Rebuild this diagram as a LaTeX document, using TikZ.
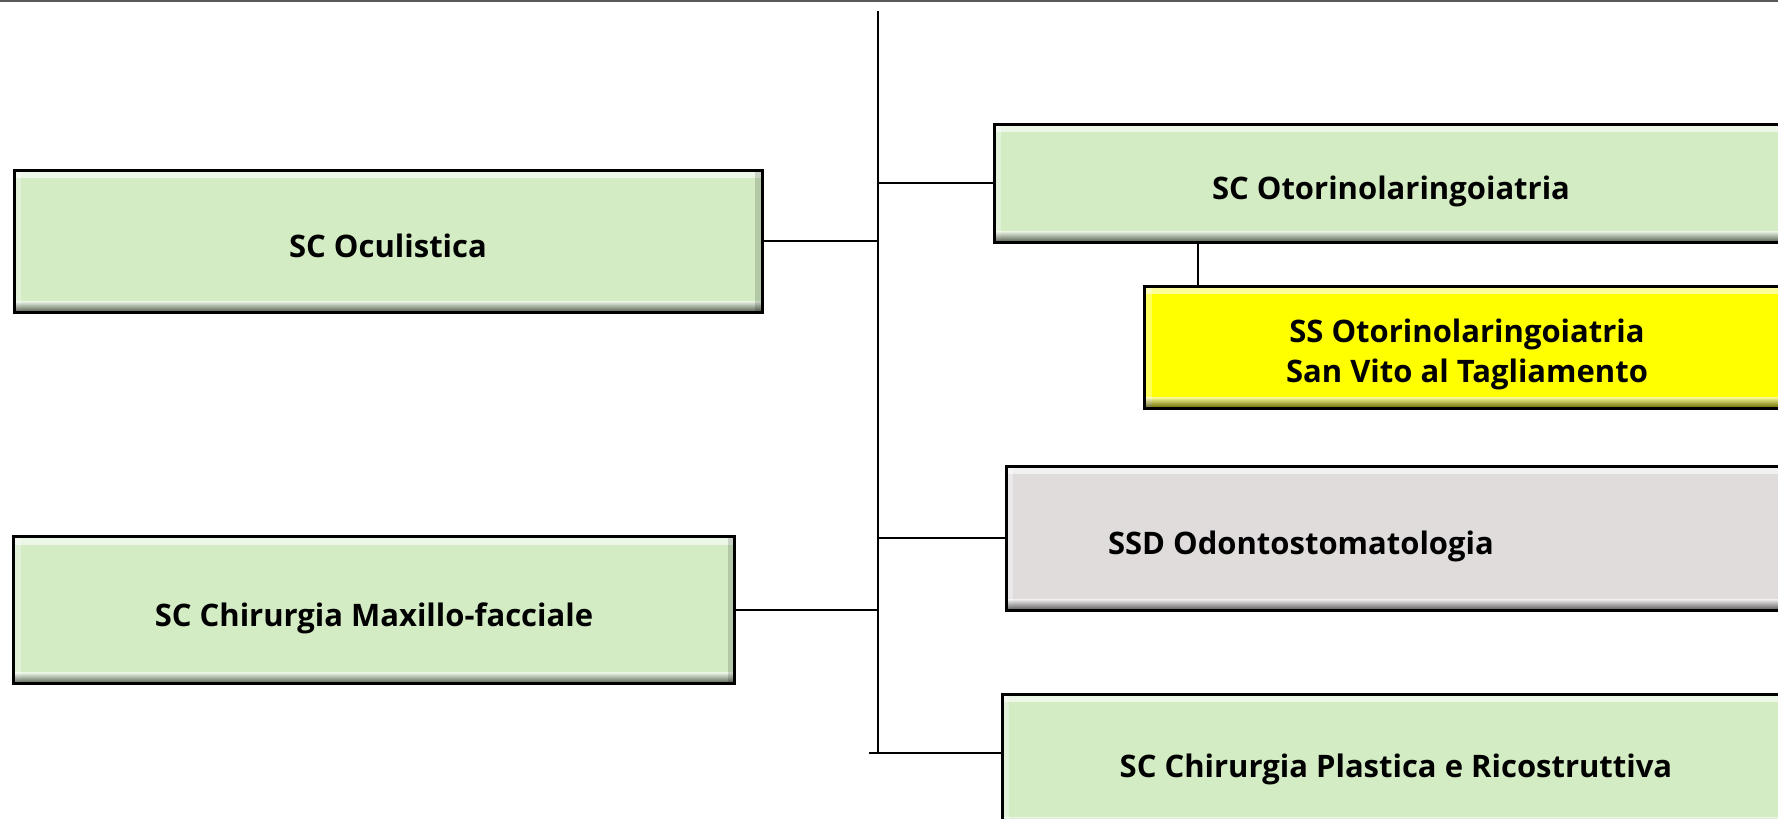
\documentclass[tikz,border=0pt]{standalone}
\usepackage{fontspec}
\setmainfont{Open Sans}
\usetikzlibrary{positioning}

\definecolor{ucgreen}{HTML}{D3ECC4}
\definecolor{ucyellow}{HTML}{FFFF00}
\definecolor{ucgray}{HTML}{E0DCDC}

\tikzset{
  unit/.style={draw=black, line width=3pt, inner sep=0pt, align=center,
    text height=33pt, text depth=0pt,
    font=\bfseries\fontsize{31}{40}\selectfont,
    path picture={
      \fill[white, opacity=.6] (path picture bounding box.north west) rectangle ([yshift=-8pt]path picture bounding box.north east);
      \fill[white, opacity=.35] (path picture bounding box.north west) rectangle ([xshift=7pt]path picture bounding box.south west);
      \shade[top color=white, bottom color=black, opacity=.6] ([yshift=11pt]path picture bounding box.south west) rectangle (path picture bounding box.south east);
      \fill[black, opacity=.15] ([xshift=-7pt]path picture bounding box.north east) rectangle (path picture bounding box.south east);
    }},
  link/.style={line width=2.2pt, black},
}

\begin{document}
\begin{tikzpicture}[x=1pt, y=1pt]
  \useasboundingbox (0,0) rectangle (1778,-819);
  \clip (0,0) rectangle (1778,-819);

  % top rule
  \draw[line width=2pt, black!65] (0,-1) -- (1778,-1);

  % left side
  \node[unit, fill=ucgreen, minimum width=748pt, minimum height=142pt] (ocul) at (388,-241) {SC Oculistica};
  \node[unit, fill=ucgreen, minimum width=721pt, minimum height=147pt] (maxf) at (374,-610) {SC Chirurgia Maxillo-facciale};

  % right side
  \node[unit, fill=ucgreen, minimum width=794pt, minimum height=118pt] (oto) at (1391,-183) {SC Otorinolaringoiatria};
  \node[unit, fill=ucyellow, minimum width=645pt, minimum height=122pt, text height=70pt] (ssoto) at (1467,-347) {SS Otorinolaringoiatria\\ San Vito al Tagliamento};
  \node[unit, fill=ucgray, minimum height=144pt, inner xsep=102pt, text width=578pt, align=flush left] (ssd) at (1397,-538) {SSD Odontostomatologia};
  \node[unit, fill=ucgreen, minimum width=788pt, minimum height=134pt] (plast) at (1396,-761) {SC Chirurgia Plastica e Ricostruttiva};

  % trunk
  \coordinate (ttop) at (878,-11);
  \coordinate (tbot) at (878,-753);
  \draw[link] (ttop) -- (tbot);

  % connectors
  \draw[link] (ocul.east) -- (ocul.east -| ttop);
  \draw[link] (maxf.east) -- (maxf.east -| ttop);
  \draw[link] (oto.west -| ttop) -- (oto.west);
  \draw[link] (ssd.west -| ttop) -- (ssd.west);
  \draw[link] ([xshift=-9pt]tbot) -- (tbot -| plast.west);
  \draw[link] ([xshift=55pt]ssoto.north west) -- ([xshift=55pt]ssoto.north west |- oto.south);
\end{tikzpicture}
\end{document}
